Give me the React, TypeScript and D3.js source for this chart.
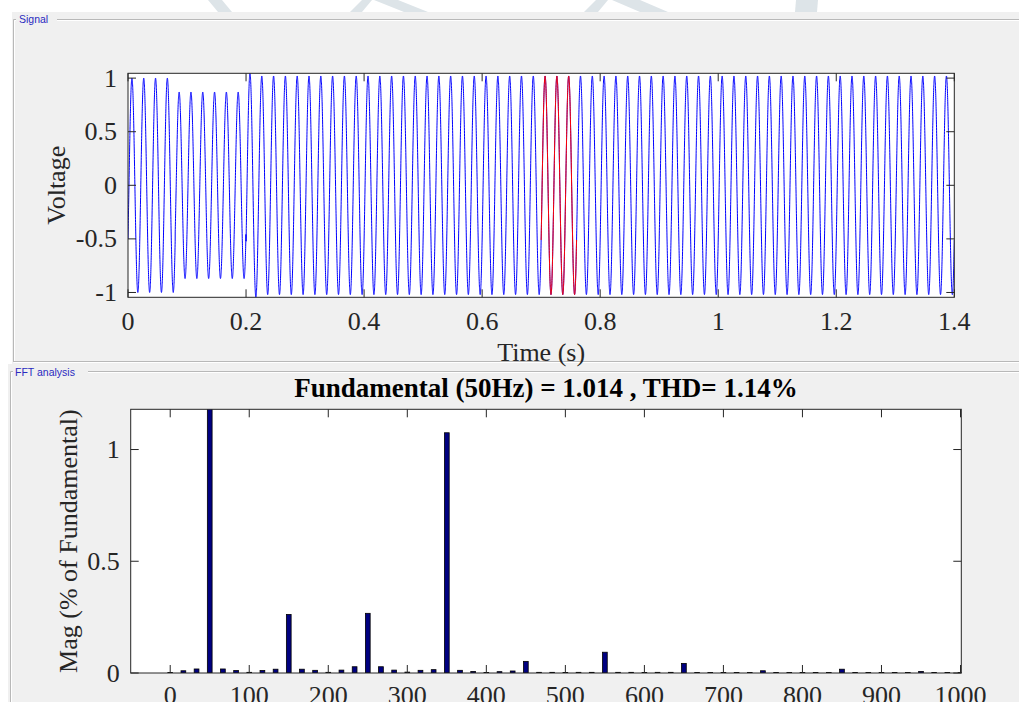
import React from "react";
import * as d3 from "d3";

const W = 1019;
const H = 702;

// Signal: 50 Hz waveform, peak amplitude of each of the 70 cycles over 1.4 s
const signalFrequency = 50;
const signalPhase = -Math.PI / 6;
const cycleAmplitudes = [
  1.0, 1.0, 1.0, 1.0,
  0.87, 0.87, 0.87, 0.87, 0.87, 0.87,
  1.045,
  1.02, 1.02, 1.02, 1.02, 1.02, 1.02, 1.02, 1.02, 1.02, 1.02,
  1.02, 1.02, 1.02, 1.02, 1.02, 1.02, 1.02, 1.02, 1.02, 1.02,
  1.02, 1.02, 1.02, 1.02, 1.02, 1.02, 1.02, 1.02, 1.02, 1.02,
  1.02, 1.02, 1.02, 1.02, 1.02, 1.02, 1.02, 1.02, 1.02, 1.02,
  1.02, 1.02, 1.02, 1.02, 1.02, 1.02, 1.02, 1.02, 1.02, 1.02,
  1.02, 1.02, 1.02, 1.02, 1.02, 1.02, 1.02, 1.02, 1.02,
];
// FFT window (highlighted in red): three cycles
const fftWindow = [0.7, 0.76];

const timeTicks = [0, 0.2, 0.4, 0.6, 0.8, 1, 1.2, 1.4];
const voltageTicks = [-1, -0.5, 0, 0.5, 1];

// FFT magnitudes (% of fundamental), bins spaced 1/0.06 s = 16.67 Hz
const binSpacing = 1000 / 60;
const fftMagnitudes = [
  0.002, 0.010, 0.018, 100, 0.018, 0.011, 0.003, 0.011, 0.017, 0.262,
  0.017, 0.012, 0.003, 0.013, 0.028, 0.267, 0.028, 0.013, 0.004, 0.012,
  0.015, 1.075, 0.012, 0.007, 0.002, 0.006, 0.009, 0.052, 0.003, 0.003,
  0.002, 0.003, 0.003, 0.093, 0.003, 0.003, 0.002, 0.003, 0.003, 0.043,
  0.002, 0.002, 0.002, 0.002, 0.002, 0.010, 0.002, 0.002, 0.002, 0.002,
  0.002, 0.017, 0.002, 0.002, 0.002, 0.002, 0.002, 0.007, 0.002, 0.002,
  0.002,
];
const freqTicks = [0, 100, 200, 300, 400, 500, 600, 700, 800, 900, 1000];
const magTicks = [0, 0.5, 1];
const fftTitle = "Fundamental (50Hz) = 1.014 , THD= 1.14%";

const serif = "'Liberation Serif', 'Times New Roman', serif";
const sans = "'Liberation Sans', Arial, sans-serif";
const axisColor = "#262626";
const tickLen = 8;

function sampleSignal(t0: number, t1: number, dt: number) {
  const pts: [number, number][] = [];
  const n = Math.round((t1 - t0) / dt);
  for (let i = 0; i <= n; i++) {
    const t = t0 + i * dt;
    const c = Math.min(cycleAmplitudes.length - 1, Math.floor(t * signalFrequency + 1e-9));
    pts.push([t, cycleAmplitudes[c] * Math.sin(2 * Math.PI * signalFrequency * t + signalPhase)]);
  }
  return pts;
}

export default function App() {
  // top plot geometry
  const s = { l: 128, r: 954.3, t: 73.3, b: 297.3 };
  const xs = d3.scaleLinear().domain([0, 1.4]).range([s.l, s.r]);
  const ys = d3.scaleLinear().domain([-1.045, 1.045]).range([s.b, s.t]);
  const line = d3
    .line<[number, number]>()
    .x((d) => xs(d[0]))
    .y((d) => ys(d[1]));
  const fullPath = line(sampleSignal(0, 1.4, 0.0001)) || "";
  const windowPath = line(sampleSignal(fftWindow[0], fftWindow[1], 0.0001)) || "";

  // bottom plot geometry
  const f = { l: 130.7, r: 961.3, t: 409.3, b: 673 };
  const xf = d3.scaleLinear().domain([-50, 1001]).range([f.l, f.r]);
  const yf = d3.scaleLinear().domain([0, 1.18]).range([f.b, f.t]);
  const barW = xf(6) - xf(0);

  const watermark = "#dde4e8";

  return (
    <svg
      width={W}
      height={H}
      style={{ position: "absolute", left: 0, top: 0, display: "block" }}
    >
      <defs>
        <clipPath id="clipSig">
          <rect x={s.l} y={s.t} width={s.r - s.l} height={s.b - s.t} />
        </clipPath>
        <clipPath id="clipFft">
          <rect x={f.l} y={f.t} width={f.r - f.l} height={f.b - f.t} />
        </clipPath>
        <clipPath id="clipTop">
          <rect x={0} y={0} width={W} height={12} />
        </clipPath>
      </defs>
      <rect x={0} y={0} width={W} height={H} fill="#ffffff" />

      {/* faint background logo showing above the panels */}
      <g clipPath="url(#clipTop)" fill={watermark}>
        <path d="M208,0 L222,0 L232,12 L218,12 Z" />
        <path d="M350,12 L362,0 L372,0 L362,12 Z" />
        <path d="M374,0 L398,0 L428,12 L404,12 Z" />
        <path d="M584,12 L596,0 L608,0 L598,12 Z" />
        <path d="M612,0 L640,0 L668,12 L640,12 Z" />
        <path d="M796,0 L818,0 L817,12 L795,12 Z" />
      </g>

      {/* panels */}
      <rect x={12} y={12} width={W - 12} height={352} fill="#f0f0f0" />
      <rect x={8} y={364} width={W - 8} height={H - 364} fill="#f0f0f0" />

      {/* Signal group box */}
      <g fill="none" strokeWidth={1}>
        <path d="M13.5,362 L13.5,19.5 L16,19.5 M57,19.5 L1019,19.5 M13.5,361.5 L1019,361.5" stroke="#b8b8b8" />
        <path d="M14.5,361 L14.5,20.5 L16,20.5 M57,20.5 L1019,20.5 M13.5,362.5 L1019,362.5" stroke="#ffffff" />
      </g>
      <text x={19} y={23} fontFamily={sans} fontSize={10.5} fill="#2a2ac0">
        Signal
      </text>

      {/* FFT group box */}
      <g fill="none" strokeWidth={1}>
        <path d="M10.5,702 L10.5,371.5 L13,371.5 M88,371.5 L1019,371.5" stroke="#b8b8b8" />
        <path d="M11.5,702 L11.5,372.5 L13,372.5 M88,372.5 L1019,372.5" stroke="#ffffff" />
      </g>
      <text x={15} y={376} fontFamily={sans} fontSize={10.5} fill="#2a2ac0">
        FFT analysis
      </text>

      {/* ---------- Signal plot ---------- */}
      <rect x={s.l} y={s.t} width={s.r - s.l} height={s.b - s.t} fill="#ffffff" />
      <g clipPath="url(#clipSig)" fill="none" strokeWidth={1}>
        <path d={fullPath} stroke="#0000ff" />
        <path d={windowPath} stroke="#ff0000" />
      </g>
      <g stroke={axisColor} strokeWidth={1} fill="none">
        <rect x={s.l} y={s.t} width={s.r - s.l} height={s.b - s.t} />
        {timeTicks.map((t) => (
          <g key={"tt" + t}>
            <line x1={xs(t)} x2={xs(t)} y1={s.b} y2={s.b - tickLen} />
            <line x1={xs(t)} x2={xs(t)} y1={s.t} y2={s.t + tickLen} />
          </g>
        ))}
        {voltageTicks.map((v) => (
          <g key={"vt" + v}>
            <line x1={s.l} x2={s.l + tickLen} y1={ys(v)} y2={ys(v)} />
            <line x1={s.r} x2={s.r - tickLen} y1={ys(v)} y2={ys(v)} />
          </g>
        ))}
      </g>
      <g fontFamily={serif} fontSize={26} fill={axisColor}>
        {timeTicks.map((t) => (
          <text key={"tl" + t} x={xs(t)} y={s.b + 33} textAnchor="middle">
            {String(t)}
          </text>
        ))}
        {voltageTicks.map((v) => (
          <text key={"vl" + v} x={s.l - 11} y={ys(v)} dy="0.33em" textAnchor="end">
            {String(v)}
          </text>
        ))}
        <text x={(s.l + s.r) / 2} y={361} textAnchor="middle">
          Time (s)
        </text>
        <text
          transform={`translate(65,${(s.t + s.b) / 2}) rotate(-90)`}
          textAnchor="middle"
        >
          Voltage
        </text>
      </g>

      {/* ---------- FFT plot ---------- */}
      <rect x={f.l} y={f.t} width={f.r - f.l} height={f.b - f.t} fill="#ffffff" />
      <g clipPath="url(#clipFft)">
        {fftMagnitudes.map((m, k) => {
          const fq = k * binSpacing;
          const y = yf(m);
          return (
            <rect
              key={"b" + k}
              x={xf(fq) - barW / 2}
              y={y}
              width={barW}
              height={Math.max(0, f.b - y)}
              fill="#000080"
              stroke="#000000"
              strokeWidth={0.8}
            />
          );
        })}
      </g>
      <g stroke={axisColor} strokeWidth={1} fill="none">
        <rect x={f.l} y={f.t} width={f.r - f.l} height={f.b - f.t} />
        {freqTicks.map((q) => (
          <g key={"ft" + q}>
            <line x1={xf(q)} x2={xf(q)} y1={f.b} y2={f.b - tickLen} />
            <line x1={xf(q)} x2={xf(q)} y1={f.t} y2={f.t + tickLen} />
          </g>
        ))}
        {magTicks.map((m) => (
          <g key={"mt" + m}>
            <line x1={f.l} x2={f.l + tickLen} y1={yf(m)} y2={yf(m)} />
            <line x1={f.r} x2={f.r - tickLen} y1={yf(m)} y2={yf(m)} />
          </g>
        ))}
      </g>
      <g fontFamily={serif} fontSize={26} fill={axisColor}>
        {freqTicks.map((q) => (
          <text key={"fl" + q} x={xf(q)} y={f.b + 31} textAnchor="middle">
            {String(q)}
          </text>
        ))}
        {magTicks.map((m) => (
          <text key={"ml" + m} x={f.l - 11} y={yf(m)} dy="0.33em" textAnchor="end">
            {String(m)}
          </text>
        ))}
        <text
          transform={`translate(77,${(f.t + f.b) / 2}) rotate(-90)`}
          textAnchor="middle"
        >
          Mag (% of Fundamental)
        </text>
      </g>
      <text
        x={(f.l + f.r) / 2}
        y={397}
        textAnchor="middle"
        fontFamily={serif}
        fontSize={27}
        fontWeight="bold"
        fill="#000000"
      >
        {fftTitle}
      </text>
    </svg>
  );
}
